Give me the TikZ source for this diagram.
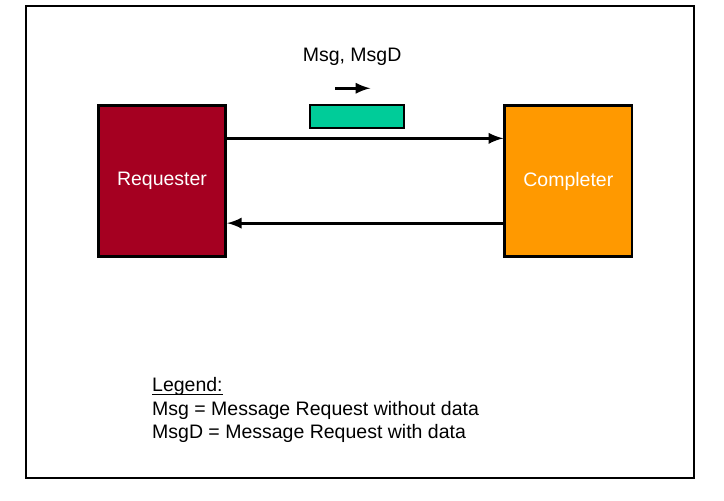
\documentclass[tikz,border=0pt]{standalone}
\usepackage{fontspec}
\setmainfont{Liberation Sans}
\usetikzlibrary{arrows, calc}
\definecolor{reqred}{HTML}{A50021}
\definecolor{compcolor}{HTML}{FF9900}
\definecolor{msgcolor}{HTML}{00CC99}
\newcommand{\legul}[1]{\setbox0\hbox{#1}\rlap{\rule[-1.7pt]{\wd0}{0.6pt}}#1}
\tikzstyle{agent} = [rectangle, draw=black, line width=1.3pt, text=white,
    minimum width=2.24cm, minimum height=2.66cm]
\tikzstyle{msg} = [rectangle, draw=black, line width=1.1pt, fill=msgcolor,
    minimum width=1.65cm, minimum height=0.40cm]
\tikzstyle{arrow} = [line width=1.5pt,->,>=latex]
\tikzstyle{plain} = [inner sep=0pt]

\begin{document}
\begin{tikzpicture}[font=\fontsize{9.75pt}{11.75pt}\selectfont]

        \useasboundingbox (-2.847,-5.606) rectangle (9.876,3.181);
        \draw [line width=1pt] (-2.390,-5.219) rectangle (9.349,3.075);

        \node (req) [agent, fill=reqred] {Requester};
        \node (comp)
            [agent, fill=compcolor, right of=req, node distance=7.14cm]
            {Completer};

        % the message on its way
        \node (msgbox) [msg] at ($(req)+(3.43,1.13)$) {};
        \node (msglbl) [above of=msgbox, node distance=1.05cm, xshift=-0.09cm]
            {Msg, MsgD};
        \coordinate (dirL) at ($(msgbox)+(-0.39,0.50)$);
        \coordinate (dirR) at ($(msgbox)+(0.23,0.50)$);

        % arrows
        \draw [arrow] ([yshift=0.75cm]req.east) -- ([yshift=0.75cm]comp.west) ;
        \draw [arrow] ([yshift=-0.74cm]comp.west) -- ([yshift=-0.74cm]req.east) ;
        \draw [arrow] (dirL) -- (dirR) ;

        % legend
        \node (legend) [plain, anchor=west, align=left]
            at ($(req)+(-0.18,-4.03)$)
            {\legul{Legend:}\\
             Msg = Message Request without data\\
             MsgD = Message Request with data};

\end{tikzpicture}
\end{document}
